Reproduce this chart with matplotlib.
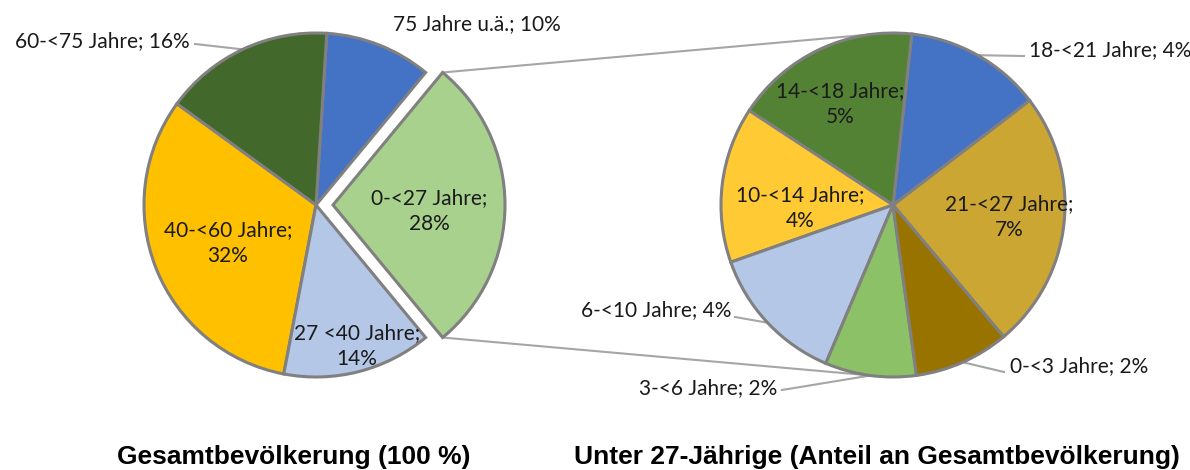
import numpy as np
import matplotlib
matplotlib.use('Agg')
import matplotlib.pyplot as plt

# left pie: total population (order = counterclockwise from the exploded slice)
main_labels = ['0-<27 Jahre;\n28%', '75 Jahre u.ä.; 10%', '60-<75 Jahre; 16%',
               '40-<60 Jahre;\n32%', '27 <40 Jahre;\n14%']
main_values = [28, 10, 16, 32, 14]
main_colors = ['#A9D18E', '#4472C4', '#43682B', '#FFC000', '#B4C7E7']

# right pie: under 27 (share of total population)
sub_labels = ['21-<27 Jahre;\n7%', '18-<21 Jahre; 4%', '14-<18 Jahre;\n5%',
              '10-<14 Jahre;\n4%', '6-<10 Jahre; 4%', '3-<6 Jahre; 2%',
              '0-<3 Jahre; 2%']
sub_values = [6.8, 3.6, 4.9, 4.1, 3.7, 2.4, 2.5]
sub_colors = ['#CCA633', '#4472C4', '#548235', '#FFCA33', '#B4C7E7',
              '#8CC168', '#997300']

W, H = 1190, 470
LBL_FONT = 'Lato'
EDGE = '#808080'

def P(x, y):
    # pixel coords (y from top) -> data coords
    return (x, H - y)

fig = plt.figure(figsize=(W / 100, H / 100), dpi=100)
ax = fig.add_axes([0, 0, 1, 1])

R = 172
c1 = P(316, 205)
c2 = P(893, 205)

start1 = -main_values[0] / sum(main_values) * 360 / 2
w1, _ = ax.pie(main_values, colors=main_colors, center=c1, radius=R,
               startangle=start1, explode=[17, 0, 0, 0, 0],
               wedgeprops=dict(edgecolor=EDGE, linewidth=2.2), frame=True)
w2, _ = ax.pie(sub_values, colors=sub_colors, center=c2, radius=R,
               startangle=-50, wedgeprops=dict(edgecolor=EDGE, linewidth=2.2),
               frame=True)
ax.set_xlim(0, W)
ax.set_ylim(0, H)
ax.set_aspect('equal')
ax.axis('off')

def edge_pt(w, ang, r=None):
    r = w.r if r is None else r
    a = np.deg2rad(ang)
    return (w.center[0] + r * np.cos(a), w.center[1] + r * np.sin(a))

# connector lines between exploded slice and second pie
g = w1[0]
p_top = edge_pt(g, g.theta2)
p_bot = edge_pt(g, g.theta1)
q_top = edge_pt(w2[0], 93, R)
q_bot = edge_pt(w2[0], 262, R)
ax.plot([p_top[0], q_top[0]], [p_top[1], q_top[1]], color='#A6A6A6', lw=1.5, zorder=0)
ax.plot([p_bot[0], q_bot[0]], [p_bot[1], q_bot[1]], color='#A6A6A6', lw=1.5, zorder=0)

fs = 15
# inside labels: (labels, index, pixel x, pixel y of block centre)
inside = [(main_labels, 0, 429, 211), (main_labels, 3, 228, 243),
          (main_labels, 4, 357, 346), (sub_labels, 0, 1009, 217),
          (sub_labels, 2, 840, 104), (sub_labels, 3, 800, 208)]
for labs, i, x, y in inside:
    ax.text(*P(x, y), labs[i], ha='center', va='center', fontsize=fs,
            family=LBL_FONT, color='#1A1A1A', linespacing=1.35, zorder=5)

# outside labels with leader lines: (wedges, labels, index, text x, text y, ha, elbow)
outside = [(w1, main_labels, 1, 393, 24, 'left', None),
           (w1, main_labels, 2, 190, 41, 'right', (195, 44)),
           (w2, sub_labels, 1, 1029, 50, 'left', (1024, 56)),
           (w2, sub_labels, 4, 731, 310, 'right', (735, 317)),
           (w2, sub_labels, 5, 777, 388, 'right', (782, 390)),
           (w2, sub_labels, 6, 1010, 366, 'left', (1004, 372))]
for ws, labs, i, x, y, ha, elbow in outside:
    w = ws[i]
    ax.text(*P(x, y), labs[i], ha=ha, va='center', fontsize=fs,
            family=LBL_FONT, color='#1A1A1A', zorder=5)
    if elbow is not None:
        mid = (w.theta1 + w.theta2) / 2
        e = edge_pt(w, mid)
        ex, ey = P(*elbow)
        ax.plot([e[0], ex], [e[1], ey], color='#A6A6A6', lw=1.5, zorder=0)

ax.text(*P(294, 457), 'Gesamtbevölkerung (100 %)', ha='center', va='center',
        fontsize=19, fontweight='bold', family='Liberation Sans')
ax.text(*P(877, 457), 'Unter 27-Jährige (Anteil an Gesamtbevölkerung)',
        ha='center', va='center', fontsize=19, fontweight='bold',
        family='Liberation Sans')

fig.savefig('out.png', dpi=100)
